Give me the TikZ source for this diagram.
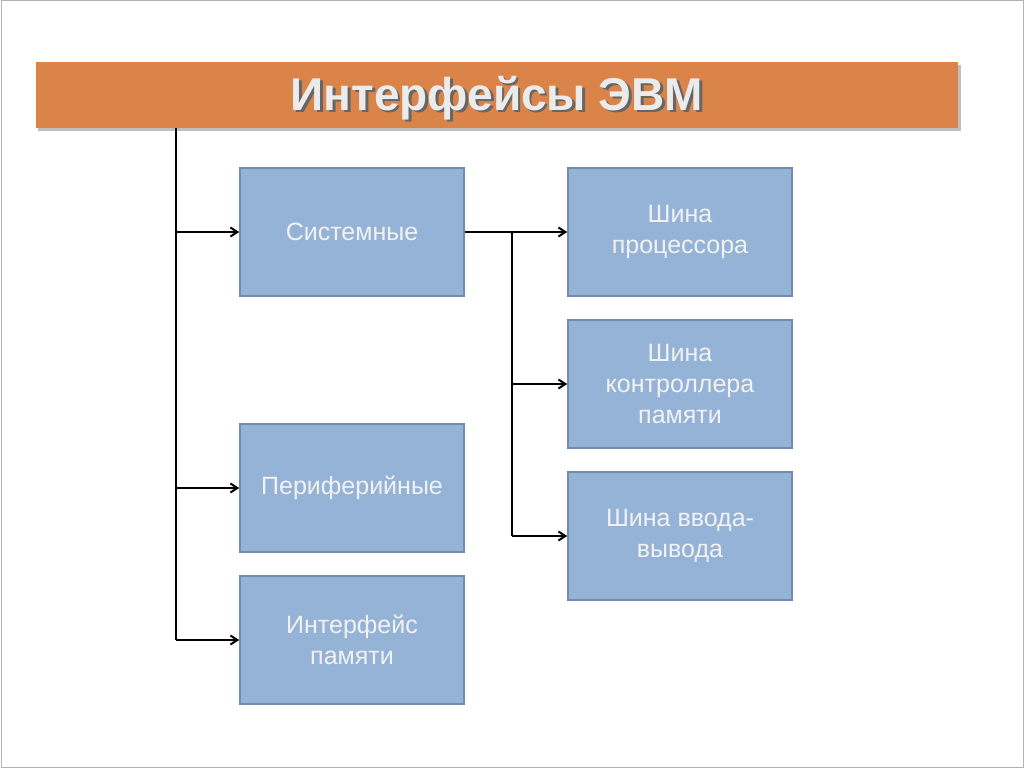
\documentclass[tikz,border=0pt]{standalone}
\usepackage{fontspec}
\setmainfont{Liberation Sans}
\usetikzlibrary{arrows.meta}
\definecolor{boxfill}{HTML}{95B3D7}
\definecolor{boxline}{HTML}{6F8CAE}
\definecolor{titlebar}{HTML}{DB8449}
\tikzset{
 box/.style={draw=boxline,line width=1.5pt,fill=boxfill,minimum width=224pt,minimum height=128pt,align=center,text=white!95!black,font=\fontsize{25}{31}\selectfont,inner sep=0pt},
 conn/.style={line width=2pt,-{Straight Barb[length=7pt,width=9pt]}},
 line/.style={line width=2pt}
}
\begin{document}
\begin{tikzpicture}[x=1pt,y=-1pt]
\useasboundingbox (0,0) rectangle (1024,768);
\fill[white] (0,0) rectangle (1024,768);
\draw[gray!60,line width=1pt] (1,1) rectangle (1023,767);
\fill[black!25] (38,65) rectangle (961,131);
\node[fill=titlebar,minimum width=922pt,minimum height=66pt,inner sep=0pt] (title) at (497,95) {};
\node[font=\bfseries\fontsize{46}{50}\selectfont,text=black!60] (tshadow) at (499.5,100.5) {Интерфейсы ЭВМ};
\node[font=\bfseries\fontsize{46}{50}\selectfont,text=white!92!black] (tt) at (497,98) {Интерфейсы ЭВМ};
\node[box] (sys) at (352,232) {Системные};
\node[box] (per) at (352,488) {Периферийные};
\node[box] (mem) at (352,640) {Интерфейс\\памяти};
\node[box] (cpu) at (680,232) {Шина\\процессора};
\node[box] (ctl) at (680,384) {Шина\\контроллера\\памяти};
\node[box] (io) at (680,536) {Шина ввода-\\вывода};
\coordinate (top) at (176,128);
\coordinate (bot) at (176,640);
\draw[line] (top) -- (bot);
\draw[conn] (176,232) -- (sys.west);
\draw[conn] (176,488) -- (per.west);
\draw[conn] (bot) -- (mem.west);
\draw[conn] (sys.east) -- (cpu.west);
\coordinate (r1) at (512,232);
\coordinate (r2) at (512,536);
\draw[line] (r1) -- (r2);
\draw[conn] (512,384) -- (ctl.west);
\draw[conn] (r2) -- (io.west);
\end{tikzpicture}
\end{document}
